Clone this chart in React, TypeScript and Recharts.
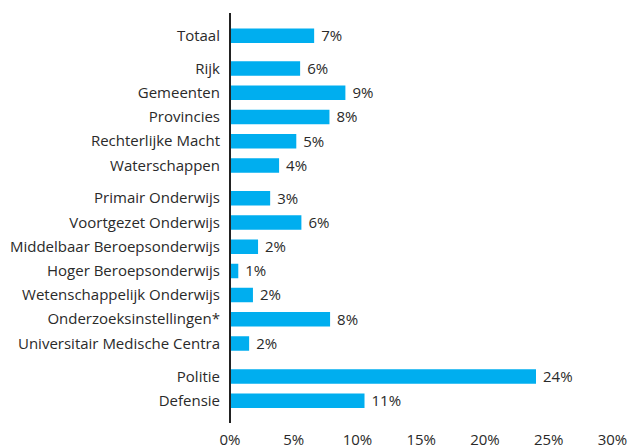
import React from 'react';
import { BarChart, Bar, XAxis, YAxis, LabelList } from 'recharts';

const categories = [
  'Totaal',
  'Rijk',
  'Gemeenten',
  'Provincies',
  'Rechterlijke Macht',
  'Waterschappen',
  'Primair Onderwijs',
  'Voortgezet Onderwijs',
  'Middelbaar Beroepsonderwijs',
  'Hoger Beroepsonderwijs',
  'Wetenschappelijk Onderwijs',
  'Onderzoeksinstellingen*',
  'Universitair Medische Centra',
  'Politie',
  'Defensie',
];
const groups = [0, 1, 1, 1, 1, 1, 2, 2, 2, 2, 2, 2, 2, 3, 3];
const values = [6.6, 5.5, 9.05, 7.8, 5.2, 3.85, 3.15, 5.6, 2.2, 0.65, 1.8, 7.85, 1.5, 24.0, 10.55];
const valueLabels = ['7%', '6%', '9%', '8%', '5%', '4%', '3%', '6%', '2%', '1%', '2%', '8%', '2%', '24%', '11%'];
const xTicks = [0, 5, 10, 15, 20, 25, 30];

const GROUP_GAP = 0.36;
const PAD = 0.93;

const data = categories.map((name, i) => ({
  name,
  pos: i + groups[i] * GROUP_GAP,
  value: values[i],
  label: valueLabels[i],
}));
const positions = data.map((d) => d.pos);
const maxPos = positions[positions.length - 1];

const FONT = '"Open Sans", "Noto Sans", sans-serif';
const TEXT = '#2a2a2a';

export default function App() {
  return (
    <div style={{ position: 'absolute', left: 0, top: 0, width: 631, height: 448, background: '#fff' }}>
      <BarChart
        width={631}
        height={448}
        data={data}
        layout="vertical"
        margin={{ top: 13, right: 18.5, bottom: 0, left: 0 }}
      >
        <XAxis
          type="number"
          domain={[0, 30]}
          ticks={xTicks}
          tickFormatter={(v) => `${v}%`}
          axisLine={false}
          tickLine={false}
          tickMargin={5}
          height={25}
          tick={{ fill: TEXT, fontSize: 15, fontFamily: FONT }}
          interval={0}
        />
        <YAxis
          type="number"
          dataKey="pos"
          domain={[-PAD, maxPos + PAD]}
          ticks={positions}
          interval={0}
          tickFormatter={(v) => {
            const idx = positions.findIndex((p) => Math.abs(p - v) < 1e-6);
            return idx >= 0 ? categories[idx] : '';
          }}
          width={230}
          tickLine={false}
          tickMargin={4}
          axisLine={{ stroke: '#222', strokeWidth: 2 }}
          tick={{ fill: TEXT, fontSize: 15, fontFamily: FONT }}
          allowDataOverflow
        />
        <Bar dataKey="value" fill="#00aeef" barSize={14.5} isAnimationActive={false}>
          <LabelList
            dataKey="label"
            position="right"
            offset={7}
            style={{ fill: TEXT, fontSize: 15, fontFamily: FONT }}
          />
        </Bar>
      </BarChart>
    </div>
  );
}
